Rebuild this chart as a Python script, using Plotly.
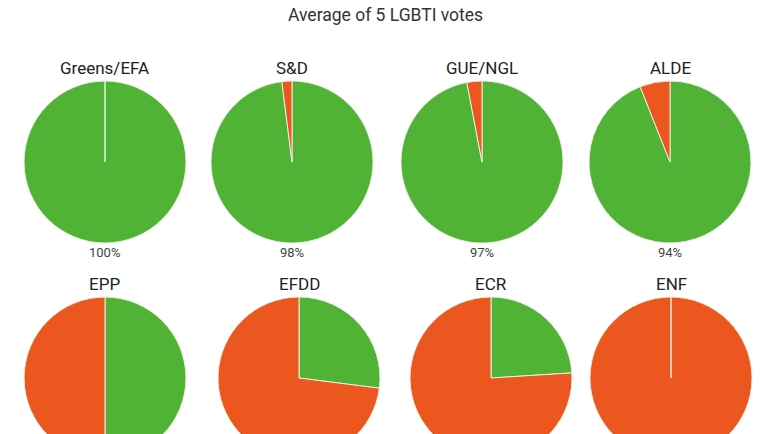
import plotly.graph_objects as go

title = "Average of 5 LGBTI votes"
groups = ["Greens/EFA", "S&D", "GUE/NGL", "ALDE", "EPP", "EFDD", "ECR", "ENF"]
in_favour = [100, 98, 97, 94, 50, 27, 24, 0]
against = [0, 2, 3, 6, 50, 73, 76, 100]
slice_names = ["In favour", "Against"]

GREEN = "#51b335"
RED = "#eb571f"

W, H = 770, 520
col_cx = [[105, 292, 482, 670], [105, 299, 491, 671]]
row_cy = [162, 378]
R = 81

fig = go.Figure()
for i, g in enumerate(groups):
    row = i // 4
    cx = col_cx[row][i % 4]
    cy = row_cy[row]
    vals = [in_favour[i], against[i]]
    cols = [GREEN, RED]
    names = list(slice_names)
    direction = "clockwise"
    if in_favour[i] == 0:
        # draw the empty slice last so its white edge stays visible
        vals, cols, names = vals[::-1], cols[::-1], names[::-1]
        direction = "counterclockwise"
    fig.add_trace(go.Pie(
        labels=names,
        values=vals,
        sort=False,
        direction=direction,
        rotation=0,
        textinfo="none",
        hoverinfo="label+percent",
        marker=dict(colors=cols, line=dict(color="#e8f0e0", width=1)),
        domain=dict(x=[(cx - R) / W, (cx + R) / W], y=[1 - (cy + R) / H, 1 - (cy - R) / H]),
        showlegend=False,
    ))
    fig.add_annotation(x=cx / W, y=1 - (cy - R - 13) / H, xref="paper", yref="paper",
                       text=g, showarrow=False, xanchor="center", yanchor="middle",
                       font=dict(family="Roboto", size=17, color="#222222"))
    if row == 0:
        fig.add_annotation(x=cx / W, y=1 - (cy + R + 9) / H, xref="paper", yref="paper",
                           text=f"{in_favour[i]}%", showarrow=False, xanchor="center",
                           yanchor="middle",
                           font=dict(family="Roboto", size=13, color="#444444"))

fig.add_annotation(x=0.5, y=1 - 15 / H, xref="paper", yref="paper", text=title,
                   showarrow=False, xanchor="center", yanchor="middle",
                   font=dict(family="Roboto", size=17.5, color="#333333"))

fig.update_layout(
    width=W, height=H,
    margin=dict(l=0, r=0, t=0, b=0),
    paper_bgcolor="white",
    plot_bgcolor="white",
)

fig.write_html(
    "out.html",
    config={"displayModeBar": False},
    post_script="document.body.style.margin='0';document.body.style.overflow='hidden';document.documentElement.style.overflow='hidden';",
)
